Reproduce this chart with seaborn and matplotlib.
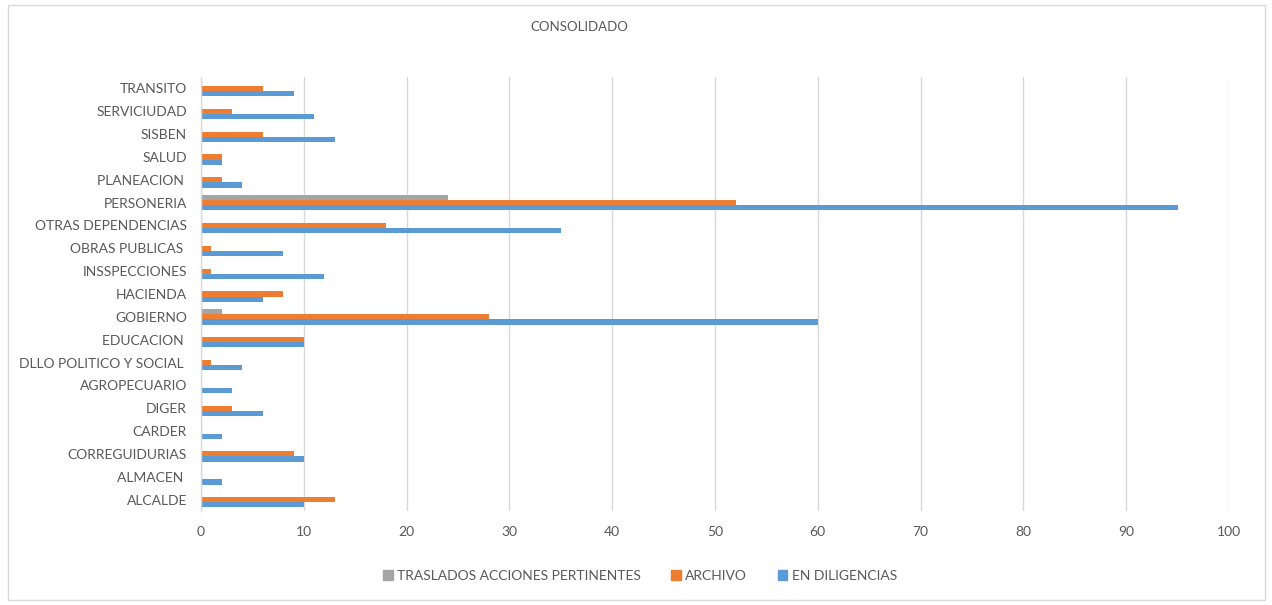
import matplotlib
matplotlib.use("Agg")
import matplotlib.pyplot as plt
import seaborn as sns
import pandas as pd
from matplotlib.patches import Rectangle, Patch

categories = ["TRANSITO", "SERVICIUDAD", "SISBEN", "SALUD", "PLANEACION ", "PERSONERIA",
              "OTRAS DEPENDENCIAS", "OBRAS PUBLICAS ", "INSSPECCIONES", "HACIENDA", "GOBIERNO",
              "EDUCACION ", "DLLO POLITICO Y SOCIAL ", "AGROPECUARIO", "DIGER", "CARDER",
              "CORREGUIDURIAS", "ALMACEN ", "ALCALDE"]
en_diligencias = [9, 11, 13, 2, 4, 95, 35, 8, 12, 6, 60, 10, 4, 3, 6, 2, 10, 2, 10]
archivo = [6, 3, 6, 2, 2, 52, 18, 1, 1, 8, 28, 10, 1, 0, 3, 0, 9, 0, 13]
traslados = [0, 0, 0, 0, 0, 24, 0, 0, 0, 0, 2, 0, 0, 0, 0, 0, 0, 0, 0]
series_names = ["TRASLADOS ACCIONES PERTINENTES", "ARCHIVO", "EN DILIGENCIAS"]
colors = ["#A5A5A5", "#ED7D31", "#5B9BD5"]

rows = []
for name, vals in zip(series_names, [traslados, archivo, en_diligencias]):
    for c, v in zip(categories, vals):
        rows.append({"cat": c, "val": v, "serie": name})
df = pd.DataFrame(rows)

sns.set_style("white")
plt.rcParams["font.family"] = ["Lato", "DejaVu Sans"]

fig = plt.figure(figsize=(12.72, 6.05), dpi=100)
ax = fig.add_axes([201/1272, 1-511/605, (1229-201)/1272, (511-77)/605])

sns.barplot(data=df, y="cat", x="val", hue="serie", order=categories,
            hue_order=series_names, palette=colors, orient="h", width=0.68,
            saturation=1, linewidth=0, ax=ax, legend=False)

ax.set_xlim(0, 100)
ax.set_xticks(range(0, 101, 10))
ax.set_xlabel("")
ax.set_ylabel("")
ax.grid(axis="x", color="#D9D9D9", linewidth=1)
ax.set_axisbelow(True)
for s in ["top", "right", "bottom"]:
    ax.spines[s].set_visible(False)
ax.spines["left"].set_color("#D9D9D9")
ax.spines["left"].set_linewidth(1)
ax.tick_params(axis="both", length=0, labelsize=10, colors="#595959")
ax.tick_params(axis="y", pad=10)
ax.tick_params(axis="x", pad=11)

fig.text(579/1272, 1-27/605, "CONSOLIDADO", ha="center", va="center",
         fontsize=9.5, color="#595959")

handles = [Patch(color=c, label=n) for c, n in zip(colors, series_names)]
fig.legend(handles=handles, loc="center", bbox_to_anchor=(640/1272, 1-576/605),
           ncol=3, frameon=False, fontsize=10, handlelength=0.7, handleheight=0.7,
           handletextpad=0.3, columnspacing=2.2, labelcolor="#595959")

fig.patches.append(Rectangle((8/1272, 1-600/605), (1265-8)/1272, (600-5)/605,
                             transform=fig.transFigure, fill=False,
                             edgecolor="#D9D9D9", linewidth=1))

fig.savefig("out.png", dpi=100)
